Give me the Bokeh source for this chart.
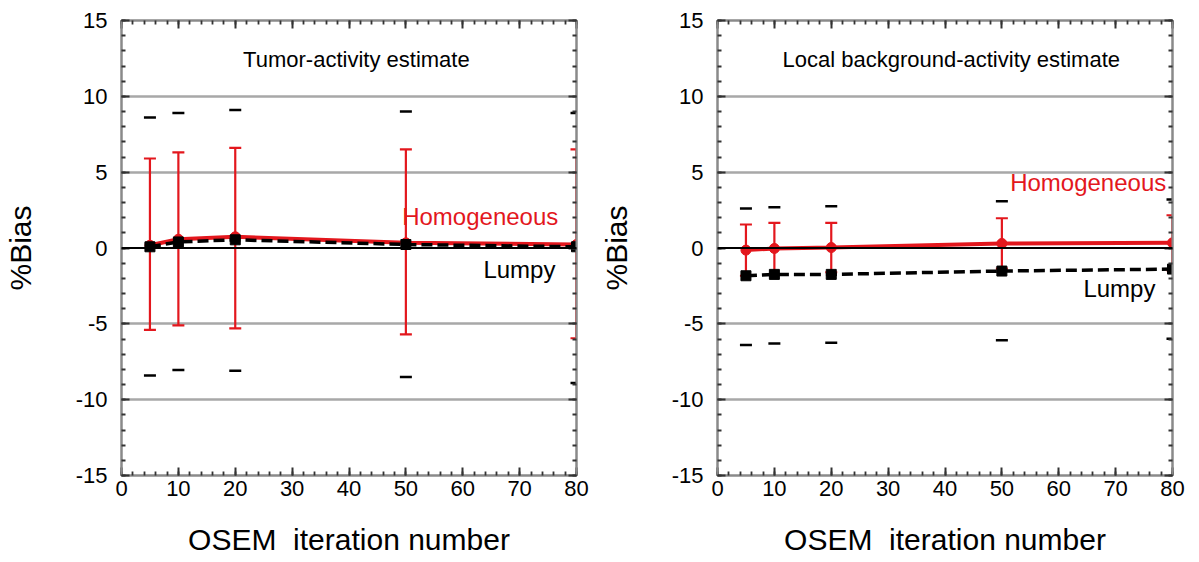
from bokeh.plotting import figure
from bokeh.layouts import row
from bokeh.models import (Range1d, FixedTicker, LinearAxis, Span, Label, Whisker,
                          ColumnDataSource, TeeHead)
from bokeh.embed import file_html
from bokeh.resources import INLINE

# ---------------- data ----------------
iterations = [5, 10, 20, 50, 80]

tumor_homog = [0.18, 0.58, 0.74, 0.34, 0.23]
tumor_homog_upper = [5.9, 6.3, 6.6, 6.5, 6.5]
tumor_homog_lower = [-5.4, -5.1, -5.3, -5.7, -5.95]
tumor_lumpy = [0.08, 0.40, 0.54, 0.23, 0.08]
tumor_lumpy_upper = [8.6, 8.9, 9.1, 9.0, 8.9]
tumor_lumpy_lower = [-8.4, -8.05, -8.1, -8.5, -8.9]

bg_homog = [-0.14, -0.03, 0.03, 0.30, 0.34]
bg_homog_upper = [1.55, 1.66, 1.66, 1.96, 2.16]
bg_homog_lower = [-1.83, -1.72, -1.60, -1.36, -1.48]
bg_lumpy = [-1.83, -1.74, -1.74, -1.52, -1.39]
bg_lumpy_upper = [2.60, 2.68, 2.75, 3.08, 3.19]
bg_lumpy_lower = [-6.39, -6.30, -6.24, -6.09, -5.98]

x_ticks = [0, 10, 20, 30, 40, 50, 60, 70, 80]
x_minor = list(range(0, 81, 2))
y_ticks = [-15, -10, -5, 0, 5, 10, 15]
y_minor = list(range(-15, 16))
grid_levels = [-10, -5, 5, 10]

x_label = "OSEM\u00a0 iteration number"
y_label = "%Bias"
panel_titles = ["Tumor-activity estimate", "Local background-activity estimate"]
series_names = ["Homogeneous", "Lumpy"]

RED = "#e3171d"
FONT = "Liberation Sans"
AXIS_GRAY = "#8a8a8a"
TICK_COL = "#333333"


def style_axis(ax, ticks, minor, show_labels):
    ax.ticker = FixedTicker(ticks=ticks, minor_ticks=minor)
    ax.major_tick_in = 8
    ax.major_tick_out = 0
    ax.minor_tick_in = 4
    ax.minor_tick_out = 0
    ax.major_tick_line_color = TICK_COL
    ax.minor_tick_line_color = TICK_COL
    ax.major_tick_line_width = 2
    ax.minor_tick_line_width = 1.8
    ax.axis_line_color = AXIS_GRAY
    ax.axis_line_width = 2
    ax.major_label_text_font = FONT
    ax.major_label_text_color = "black"
    if show_labels:
        ax.major_label_overrides = {t: str(t) for t in ticks}
        ax.major_label_text_font_size = "22px"
    else:
        ax.major_label_overrides = {t: "" for t in ticks}
        ax.major_label_text_font_size = "0px"
        ax.major_label_standoff = 0


def make_panel(title, homog, h_up, h_lo, lumpy, l_up, l_lo,
               h_pos, l_pos, title_pos, border_right):
    p = figure(frame_width=455, frame_height=455,
               x_range=Range1d(0, 80), y_range=Range1d(-15, 15),
               output_backend="svg", toolbar_location=None,
               min_border_left=118, min_border_right=border_right,
               min_border_top=20, min_border_bottom=77)
    p.outline_line_color = AXIS_GRAY
    p.outline_line_width = 2
    p.background_fill_color = "white"
    p.border_fill_color = "white"

    style_axis(p.xaxis[0], x_ticks, x_minor, True)
    style_axis(p.yaxis[0], y_ticks, y_minor, True)
    p.xaxis[0].major_label_standoff = 5
    p.yaxis[0].major_label_standoff = 14
    p.xaxis[0].axis_label = x_label
    p.yaxis[0].axis_label = y_label
    for ax in (p.xaxis[0], p.yaxis[0]):
        ax.axis_label_text_font = FONT
        ax.axis_label_text_font_style = "normal"
        ax.axis_label_text_font_size = "30px"
        ax.axis_label_text_color = "black"
    p.xaxis[0].axis_label_standoff = 24
    p.yaxis[0].axis_label_standoff = 36

    top = LinearAxis()
    style_axis(top, x_ticks, x_minor, False)
    p.add_layout(top, "above")
    right = LinearAxis()
    style_axis(right, y_ticks, y_minor, False)
    p.add_layout(right, "right")

    p.xgrid.visible = False
    p.ygrid.ticker = FixedTicker(ticks=grid_levels)
    p.ygrid.grid_line_color = "#a8a8a8"
    p.ygrid.grid_line_width = 2.5

    p.add_layout(Span(location=0, dimension="width", line_color="black",
                      line_width=2))

    src = ColumnDataSource(dict(x=iterations, h=homog, hu=h_up, hl=h_lo,
                                l=lumpy, lu=l_up, ll=l_lo))

    # homogeneous error bars
    w = Whisker(base="x", upper="hu", lower="hl", source=src,
                dimension="height", line_color=RED, line_width=2.2,
                upper_head=TeeHead(size=12, line_color=RED, line_width=2.2),
                lower_head=TeeHead(size=12, line_color=RED, line_width=2.2))
    p.add_layout(w)

    p.line("x", "h", source=src, line_color=RED, line_width=4)
    p.scatter("x", "h", source=src, marker="circle", size=10,
              fill_color=RED, line_color=RED)

    p.line("x", "l", source=src, line_color="black", line_width=3.5,
           line_dash="11 5")
    p.scatter("x", "l", source=src, marker="square", size=10,
              fill_color="black", line_color="black")

    # lumpy spread shown by short dashes only
    p.scatter("x", "lu", source=src, marker="dash", size=12,
              line_color="black", line_width=2.5)
    p.scatter("x", "ll", source=src, marker="dash", size=12,
              line_color="black", line_width=2.5)

    p.add_layout(Label(x=title_pos[0], y=title_pos[1], text=title,
                       text_align="center", text_baseline="middle",
                       text_font=FONT, text_font_size="22px",
                       text_color="black"))
    p.add_layout(Label(x=h_pos[0], y=h_pos[1], text=series_names[0],
                       text_align="right", text_baseline="middle",
                       text_font=FONT, text_font_size="24px",
                       text_color=RED))
    p.add_layout(Label(x=l_pos[0], y=l_pos[1], text=series_names[1],
                       text_align="right", text_baseline="middle",
                       text_font=FONT, text_font_size="24px",
                       text_color="black"))
    return p


p1 = make_panel(panel_titles[0], tumor_homog, tumor_homog_upper,
                tumor_homog_lower, tumor_lumpy, tumor_lumpy_upper,
                tumor_lumpy_lower, h_pos=(76.8, 2.1), l_pos=(76.3, -1.4),
                title_pos=(41.3, 12.45), border_right=20)
p2 = make_panel(panel_titles[1], bg_homog, bg_homog_upper, bg_homog_lower,
                bg_lumpy, bg_lumpy_upper, bg_lumpy_lower,
                h_pos=(78.9, 4.35), l_pos=(77.0, -2.7),
                title_pos=(41.1, 12.4), border_right=20)

layout = row(p1, p2, spacing=0)
open("out.html", "w").write(file_html(layout, INLINE))
